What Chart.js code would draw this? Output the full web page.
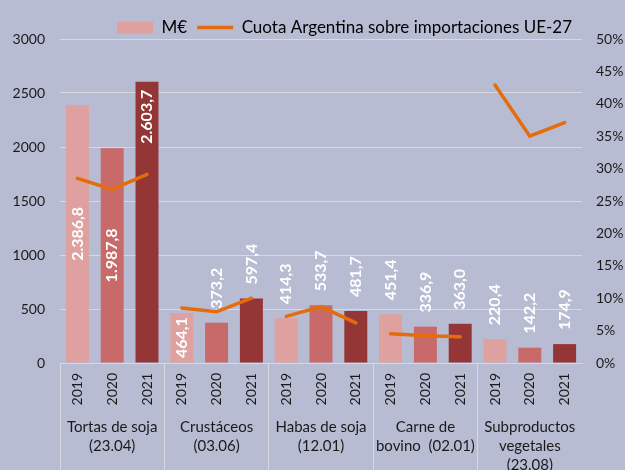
<!DOCTYPE html>
<html>
<head>
<meta charset="utf-8">
<script src="https://cdn.jsdelivr.net/npm/chart.js@4"></script>
<style>
    html, body { margin: 0; padding: 0; background: #b8bcd3; overflow: hidden; }
    #wrap { width: 625px; height: 490px; }
</style>
</head>
<body>
<div id="wrap"><canvas id="exportChart" width="625" height="490"></canvas></div>
<script>
// Datos del gráfico
const productos = [
    ['Tortas de soja', '(23.04)'],
    ['Crustáceos', '(03.06)'],
    ['Habas de soja', '(12.01)'],
    ['Carne de', 'bovino  (02.01)'],
    ['Subproductos', 'vegetales', '(23.08)']
];
const anios = ['2019', '2020', '2021'];
const millonesEuro = [2386.8, 1987.8, 2603.7, 464.1, 373.2, 597.4, 414.3, 533.7, 481.7, 451.4, 336.9, 363.0, 220.4, 142.2, 174.9];
const cuotaArgentina = [28.5, 26.8, 29.1, 8.5, 7.9, 10.0, 7.2, 8.7, 6.2, 4.5, 4.2, 4.05, 42.9, 35.0, 37.1]; // %
const ticksEuro = [0, 500, 1000, 1500, 2000, 2500, 3000];
const ticksCuota = [0, 5, 10, 15, 20, 25, 30, 35, 40, 45, 50];

// Estilos
const colorAnio = ['#dfa0a0', '#c96a6a', '#943636'];
const naranja = '#e46c0a';
const gris = '#d9d9d9';
const texto = '#1a1a1a';
const fuente = 'Lato';
// dónde va cada etiqueta de valor: centro, arriba (dentro) o fuera
const posEtiqueta = ['centro', 'centro', 'arriba', 'centro', 'fuera', 'fuera', 'fuera', 'fuera', 'fuera', 'fuera', 'fuera', 'fuera', 'fuera', 'fuera', 'fuera'];

const etiquetasAnio = productos.flatMap(() => anios);

function formatoES(v) {
    const [ent, dec] = v.toFixed(1).split('.');
    return ent.replace(/\B(?=(\d{3})+(?!\d))/g, '.') + ',' + dec;
}

// Etiquetas de valor giradas sobre las barras
const etiquetasBarras = {
    id: 'etiquetasBarras',
    afterDatasetsDraw(chart) {
        const meta = chart.getDatasetMeta(1);
        const ctx = chart.ctx;
        ctx.save();
        ctx.font = 'bold 16px ' + fuente;
        ctx.fillStyle = '#ffffff';
        ctx.textAlign = 'center';
        ctx.textBaseline = 'middle';
        meta.data.forEach((bar, i) => {
            const txt = formatoES(millonesEuro[i]);
            const w = ctx.measureText(txt).width;
            let cy;
            if (posEtiqueta[i] === 'centro') cy = (bar.y + bar.base) / 2;
            else if (posEtiqueta[i] === 'arriba') cy = bar.y + 8 + w / 2;
            else cy = bar.y - 14 - w / 2;
            ctx.save();
            ctx.translate(bar.x, cy);
            ctx.rotate(-Math.PI / 2);
            ctx.fillText(txt, 0, 0);
            ctx.restore();
        });
        ctx.restore();
    }
};

// Colocar la leyenda algo más abajo y a la derecha, como en el original
const moverLeyenda = {
    id: 'moverLeyenda',
    afterLayout(chart) {
        chart.legend.left += 64;
        chart.legend.top += 7;
    }
};

const ctx = document.getElementById('exportChart').getContext('2d');
const myChart = new Chart(ctx, {
    data: {
        labels: etiquetasAnio,
        datasets: [{
            type: 'line',
            label: 'Cuota Argentina sobre importaciones UE-27',
            data: cuotaArgentina,
            yAxisID: 'y1',
            borderColor: naranja,
            borderWidth: 3.5,
            borderCapStyle: 'round',
            pointRadius: 0,
            tension: 0,
            segment: {
                borderColor: c => c.p0DataIndex % 3 === 2 ? 'transparent' : naranja
            },
            order: 0
        }, {
            type: 'bar',
            label: 'M€',
            data: millonesEuro,
            yAxisID: 'y',
            backgroundColor: millonesEuro.map((v, i) => colorAnio[i % 3]),
            barPercentage: 0.66,
            categoryPercentage: 1,
            order: 1
        }]
    },
    options: {
        responsive: false,
        animation: false,
        devicePixelRatio: 1,
        layout: { padding: { top: 2, left: 0, right: 0, bottom: 0 } },
        plugins: {
            tooltip: { enabled: false },
            legend: {
                position: 'top',
                labels: {
                    color: texto,
                    font: { family: fuente, size: 17 },
                    usePointStyle: true,
                    pointStyleWidth: 36,
                    boxHeight: 12,
                    padding: 10,
                    generateLabels: () => [{
                        text: 'M€', fillStyle: colorAnio[0], strokeStyle: colorAnio[0],
                        lineWidth: 0, pointStyle: 'rect', hidden: false, datasetIndex: 1
                    }, {
                        text: 'Cuota Argentina sobre importaciones UE-27', fillStyle: naranja, strokeStyle: naranja,
                        lineWidth: 3.5, pointStyle: 'line', hidden: false, datasetIndex: 0
                    }]
                }
            }
        },
        scales: {
            x: {
                type: 'category',
                labels: etiquetasAnio,
                offset: true,
                grid: {
                    offset: true,
                    drawOnChartArea: false,
                    tickLength: 130,
                    color: c => c.index % 3 === 0 ? gris : 'transparent'
                },
                border: { display: true, color: gris },
                ticks: {
                    autoSkip: false,
                    minRotation: 90,
                    maxRotation: 90,
                    padding: -120,
                    color: texto,
                    font: { family: fuente, size: 14 }
                },
                afterFit: s => { s.height = 50; }
            },
            x2: {
                type: 'category',
                labels: productos,
                position: 'bottom',
                offset: true,
                grid: { display: false, drawTicks: false },
                border: { display: false },
                ticks: {
                    autoSkip: false,
                    maxRotation: 0,
                    padding: 5,
                    color: texto,
                    font: { family: fuente, size: 15, lineHeight: '19px' }
                },
                afterFit: s => { s.height = 77; }
            },
            y: {
                position: 'left',
                min: 0,
                max: 3000,
                afterBuildTicks: s => { s.ticks = ticksEuro.map(v => ({ value: v })); },
                grid: { color: gris, drawTicks: false },
                border: { display: false },
                ticks: { padding: 15, color: texto, font: { family: fuente, size: 14 }, callback: v => String(v) },
                afterFit: s => { s.width = 60; }
            },
            y1: {
                position: 'right',
                min: 0,
                max: 50,
                afterBuildTicks: s => { s.ticks = ticksCuota.map(v => ({ value: v })); },
                grid: { drawOnChartArea: false, drawTicks: false },
                border: { display: false },
                ticks: { padding: 14, color: texto, font: { family: fuente, size: 14 }, callback: v => v + '%' },
                afterFit: s => { s.width = 43; }
            }
        }
    },
    plugins: [etiquetasBarras, moverLeyenda]
});
</script>
</body>
</html>
